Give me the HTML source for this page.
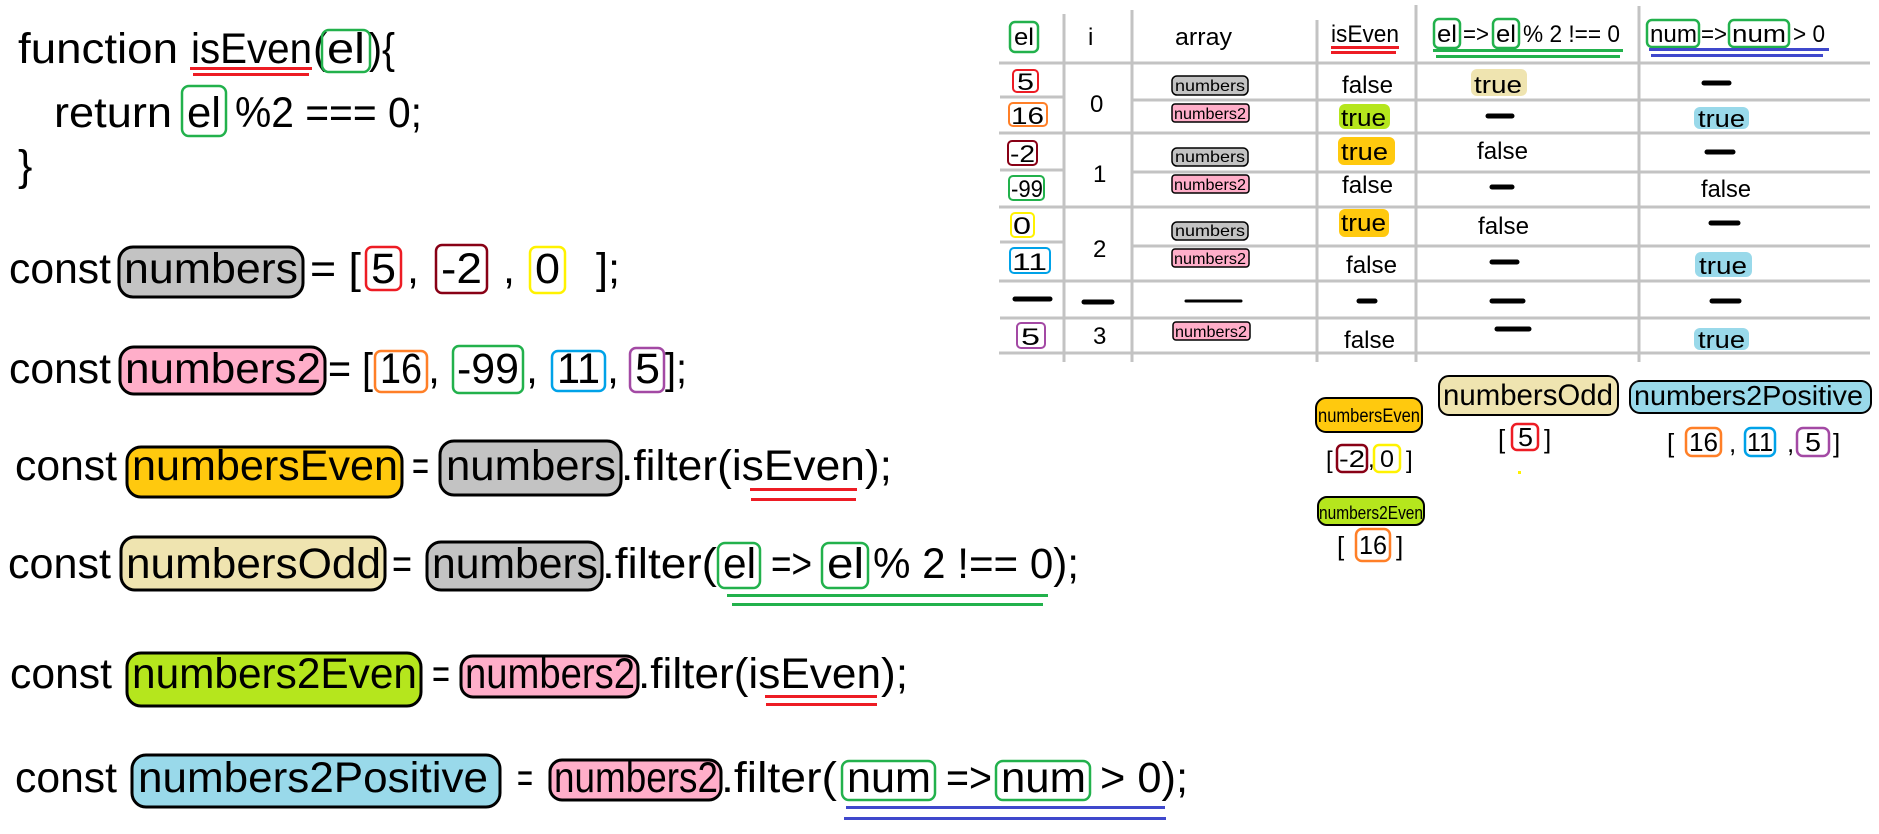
<!DOCTYPE html>
<html><head><meta charset="utf-8"><style>
html,body{margin:0;padding:0;background:#fff;width:1879px;height:834px;overflow:hidden}
svg text{font-family:"Liberation Sans",sans-serif;fill:#000}
</style></head><body>
<svg width="1879" height="834" viewBox="0 0 1879 834" xmlns="http://www.w3.org/2000/svg">
<g font-size="43" lengthAdjust="spacingAndGlyphs">
<!-- line1 -->
<text x="18" y="63" textLength="160" lengthAdjust="spacingAndGlyphs">function</text>
<text x="191" y="63" textLength="121" lengthAdjust="spacingAndGlyphs">isEven</text>
<rect x="190" y="67" width="122" height="3" fill="#ed1c24"/><rect x="193" y="73" width="116" height="3" fill="#ed1c24"/>
<text x="313" y="63">(</text>
<rect x="322" y="30" width="48" height="42" rx="7" fill="none" stroke="#22b14c" stroke-width="2.5"/>
<text x="327" y="63" textLength="38" lengthAdjust="spacingAndGlyphs">el</text>
<text x="369" y="63" textLength="26" lengthAdjust="spacingAndGlyphs">){</text>
<!-- line2 -->
<text x="54" y="127" textLength="118" lengthAdjust="spacingAndGlyphs">return</text>
<rect x="182" y="86" width="44" height="50" rx="7" fill="none" stroke="#22b14c" stroke-width="2.5"/>
<text x="187" y="127" textLength="34" lengthAdjust="spacingAndGlyphs">el</text>
<text x="235" y="127" textLength="187" lengthAdjust="spacingAndGlyphs">%2 === 0;</text>
<text x="18" y="180">}</text>
<!-- line4 -->
<text x="9" y="283" textLength="102" lengthAdjust="spacingAndGlyphs">const</text>
<rect x="119" y="247" width="184" height="50" rx="14" fill="#c3c3c3" stroke="#000" stroke-width="3"/>
<text x="124" y="283" textLength="174" lengthAdjust="spacingAndGlyphs">numbers</text>
<text x="310" y="283" textLength="51" lengthAdjust="spacingAndGlyphs">= [</text>
<rect x="366" y="247" width="35" height="43" rx="6" fill="none" stroke="#ed1c24" stroke-width="2.5"/>
<text x="371" y="283" textLength="25" lengthAdjust="spacingAndGlyphs">5</text>
<text x="407" y="283">,</text>
<rect x="436" y="245" width="51" height="48" rx="6" fill="none" stroke="#880015" stroke-width="2.5"/>
<text x="441" y="283" textLength="41" lengthAdjust="spacingAndGlyphs">-2</text>
<text x="503" y="283">,</text>
<rect x="530" y="247" width="35" height="46" rx="6" fill="none" stroke="#fff200" stroke-width="2.5"/>
<text x="535" y="283" textLength="25" lengthAdjust="spacingAndGlyphs">0</text>
<text x="596" y="283" textLength="24" lengthAdjust="spacingAndGlyphs">];</text>
<!-- line5 -->
<text x="9" y="383" textLength="102" lengthAdjust="spacingAndGlyphs">const</text>
<rect x="120" y="347" width="205" height="47" rx="14" fill="#ffaec9" stroke="#000" stroke-width="3"/>
<text x="125" y="383" textLength="196" lengthAdjust="spacingAndGlyphs">numbers2</text>
<text x="328" y="383" textLength="45" lengthAdjust="spacingAndGlyphs">= [</text>
<rect x="375" y="351" width="52" height="41" rx="6" fill="none" stroke="#ff7f27" stroke-width="2.5"/>
<text x="380" y="383" textLength="42" lengthAdjust="spacingAndGlyphs">16</text>
<text x="428" y="383">,</text>
<rect x="453" y="346" width="70" height="47" rx="6" fill="none" stroke="#22b14c" stroke-width="2.5"/>
<text x="457" y="383" textLength="62" lengthAdjust="spacingAndGlyphs">-99</text>
<text x="526" y="383">,</text>
<rect x="552" y="351" width="53" height="40" rx="6" fill="none" stroke="#00a2e8" stroke-width="2.5"/>
<text x="557" y="383" textLength="43" lengthAdjust="spacingAndGlyphs">11</text>
<text x="607" y="383">,</text>
<rect x="630" y="348" width="34" height="44" rx="6" fill="none" stroke="#a349a4" stroke-width="2.5"/>
<text x="635" y="383" textLength="25" lengthAdjust="spacingAndGlyphs">5</text>
<text x="665" y="383" textLength="22" lengthAdjust="spacingAndGlyphs">];</text>
<!-- line6 -->
<text x="15" y="480" textLength="102" lengthAdjust="spacingAndGlyphs">const</text>
<rect x="127" y="447" width="275" height="50" rx="14" fill="#ffc90e" stroke="#000" stroke-width="3"/>
<text x="132" y="480" textLength="266" lengthAdjust="spacingAndGlyphs">numbersEven</text>
<text x="412" y="480" textLength="17" lengthAdjust="spacingAndGlyphs">=</text>
<rect x="440" y="441" width="181" height="54" rx="14" fill="#c3c3c3" stroke="#000" stroke-width="3"/>
<text x="446" y="480" textLength="170" lengthAdjust="spacingAndGlyphs">numbers</text>
<text x="621" y="480" textLength="271" lengthAdjust="spacingAndGlyphs">.filter(isEven);</text>
<rect x="750" y="488" width="107" height="3" fill="#ed1c24"/><rect x="751" y="498" width="105" height="3" fill="#ed1c24"/>
<!-- line7 -->
<text x="8" y="578" textLength="103" lengthAdjust="spacingAndGlyphs">const</text>
<rect x="121" y="537" width="264" height="53" rx="14" fill="#efe4b0" stroke="#000" stroke-width="3"/>
<text x="126" y="578" textLength="255" lengthAdjust="spacingAndGlyphs">numbersOdd</text>
<text x="392" y="578" textLength="20" lengthAdjust="spacingAndGlyphs">=</text>
<rect x="427" y="542" width="175" height="48" rx="14" fill="#c3c3c3" stroke="#000" stroke-width="3"/>
<text x="432" y="578" textLength="166" lengthAdjust="spacingAndGlyphs">numbers</text>
<text x="602" y="578" textLength="115" lengthAdjust="spacingAndGlyphs">.filter(</text>
<rect x="718" y="543" width="42" height="45" rx="7" fill="none" stroke="#22b14c" stroke-width="2.5"/>
<text x="723" y="578" textLength="33" lengthAdjust="spacingAndGlyphs">el</text>
<text x="771" y="578" textLength="41" lengthAdjust="spacingAndGlyphs">=&gt;</text>
<rect x="822" y="543" width="46" height="45" rx="7" fill="none" stroke="#22b14c" stroke-width="2.5"/>
<text x="827" y="578" textLength="37" lengthAdjust="spacingAndGlyphs">el</text>
<text x="873" y="578" textLength="206" lengthAdjust="spacingAndGlyphs">% 2 !== 0);</text>
<rect x="727" y="594" width="321" height="3" fill="#22b14c"/><rect x="732" y="603" width="311" height="3" fill="#22b14c"/>
<!-- line8 -->
<text x="10" y="688" textLength="102" lengthAdjust="spacingAndGlyphs">const</text>
<rect x="127" y="653" width="294" height="53" rx="14" fill="#b5e61d" stroke="#000" stroke-width="3"/>
<text x="132" y="688" textLength="285" lengthAdjust="spacingAndGlyphs">numbers2Even</text>
<text x="432" y="688" textLength="18" lengthAdjust="spacingAndGlyphs">=</text>
<rect x="461" y="656" width="177" height="41" rx="12" fill="#ffaec9" stroke="#000" stroke-width="3"/>
<text x="465" y="688" textLength="170" lengthAdjust="spacingAndGlyphs">numbers2</text>
<text x="638" y="688" textLength="270" lengthAdjust="spacingAndGlyphs">.filter(isEven);</text>
<rect x="765" y="695" width="112" height="3" fill="#ed1c24"/><rect x="766" y="703" width="111" height="3" fill="#ed1c24"/>
<!-- line9 -->
<text x="15" y="792" textLength="102" lengthAdjust="spacingAndGlyphs">const</text>
<rect x="132" y="755" width="368" height="52" rx="14" fill="#99d9ea" stroke="#000" stroke-width="3"/>
<text x="138" y="792" textLength="350" lengthAdjust="spacingAndGlyphs">numbers2Positive</text>
<text x="517" y="792" textLength="16" lengthAdjust="spacingAndGlyphs">=</text>
<rect x="550" y="760" width="171" height="40" rx="12" fill="#ffaec9" stroke="#000" stroke-width="3"/>
<text x="554" y="792" textLength="164" lengthAdjust="spacingAndGlyphs">numbers2</text>
<text x="721" y="792" textLength="116" lengthAdjust="spacingAndGlyphs">.filter(</text>
<rect x="842" y="761" width="93" height="39" rx="7" fill="none" stroke="#22b14c" stroke-width="2.5"/>
<text x="847" y="792" textLength="84" lengthAdjust="spacingAndGlyphs">num</text>
<text x="946" y="792" textLength="46" lengthAdjust="spacingAndGlyphs">=&gt;</text>
<rect x="996" y="761" width="94" height="39" rx="7" fill="none" stroke="#22b14c" stroke-width="2.5"/>
<text x="1001" y="792" textLength="85" lengthAdjust="spacingAndGlyphs">num</text>
<text x="1100" y="792" textLength="88" lengthAdjust="spacingAndGlyphs">&gt; 0);</text>
<rect x="846" y="806" width="319" height="3" fill="#3f48cc"/><rect x="844" y="817" width="322" height="3" fill="#3f48cc"/>
</g>

<!-- table grid -->
<g stroke="#c3c3c3" stroke-width="3">
<line x1="1064" y1="14" x2="1064" y2="362"/>
<line x1="1132" y1="10" x2="1132" y2="362"/>
<line x1="1317" y1="20" x2="1317" y2="362"/>
<line x1="1416" y1="5" x2="1416" y2="362"/>
<line x1="1639" y1="6" x2="1639" y2="362"/>
<line x1="999" y1="63" x2="1870" y2="63"/>
<line x1="999" y1="133" x2="1870" y2="133"/>
<line x1="999" y1="207" x2="1870" y2="207"/>
<line x1="999" y1="281" x2="1870" y2="281"/>
<line x1="1000" y1="318" x2="1870" y2="318"/>
<line x1="999" y1="353" x2="1870" y2="353"/>
<line x1="1000" y1="97" x2="1064" y2="97"/><line x1="1132" y1="100" x2="1870" y2="100"/>
<line x1="1000" y1="170" x2="1064" y2="170"/><line x1="1132" y1="172" x2="1870" y2="172"/>
<line x1="1000" y1="242" x2="1064" y2="242"/><line x1="1132" y1="246" x2="1870" y2="246"/>
</g>

<g font-size="24">
<!-- header -->
<rect x="1010" y="22" width="28" height="30" rx="5" fill="none" stroke="#22b14c" stroke-width="2.5"/>
<text x="1014" y="45" textLength="20" lengthAdjust="spacingAndGlyphs">el</text>
<text x="1088" y="45">i</text>
<text x="1175" y="45" textLength="57" lengthAdjust="spacingAndGlyphs">array</text>
<text x="1331" y="42" textLength="68" lengthAdjust="spacingAndGlyphs">isEven</text>
<rect x="1331" y="46" width="68" height="3" fill="#ed1c24"/><rect x="1331" y="51" width="65" height="3" fill="#ed1c24"/>
<rect x="1434" y="19" width="26" height="29" rx="5" fill="none" stroke="#22b14c" stroke-width="2.5"/>
<text x="1437" y="42" textLength="20" lengthAdjust="spacingAndGlyphs">el</text>
<text x="1463" y="42" textLength="26" lengthAdjust="spacingAndGlyphs">=&gt;</text>
<rect x="1493" y="19" width="26" height="29" rx="5" fill="none" stroke="#22b14c" stroke-width="2.5"/>
<text x="1496" y="42" textLength="20" lengthAdjust="spacingAndGlyphs">el</text>
<text x="1523" y="42" textLength="97" lengthAdjust="spacingAndGlyphs">% 2 !== 0</text>
<rect x="1433" y="49" width="190" height="3" fill="#22b14c"/><rect x="1436" y="55" width="184" height="3" fill="#22b14c"/>
<rect x="1647" y="20" width="52" height="27" rx="5" fill="none" stroke="#22b14c" stroke-width="2.5"/>
<text x="1650" y="42" textLength="47" lengthAdjust="spacingAndGlyphs">num</text>
<text x="1701" y="42" textLength="26" lengthAdjust="spacingAndGlyphs">=&gt;</text>
<rect x="1729" y="20" width="60" height="27" rx="5" fill="none" stroke="#22b14c" stroke-width="2.5"/>
<text x="1732" y="42" textLength="54" lengthAdjust="spacingAndGlyphs">num</text>
<text x="1793" y="42" textLength="32" lengthAdjust="spacingAndGlyphs">&gt; 0</text>
<rect x="1649" y="48" width="180" height="3" fill="#3f48cc"/><rect x="1651" y="54" width="172" height="3" fill="#3f48cc"/>

<!-- el column boxes -->
<rect x="1013" y="70" width="25" height="22" rx="4" fill="none" stroke="#ed1c24" stroke-width="2"/>
<text x="1017" y="90" textLength="17" lengthAdjust="spacingAndGlyphs">5</text>
<rect x="1009" y="103" width="38" height="23" rx="4" fill="none" stroke="#ff7f27" stroke-width="2"/>
<text x="1011" y="124" textLength="33" lengthAdjust="spacingAndGlyphs">16</text>
<rect x="1008" y="141" width="29" height="24" rx="4" fill="none" stroke="#880015" stroke-width="2"/>
<text x="1010" y="162" textLength="25" lengthAdjust="spacingAndGlyphs">-2</text>
<rect x="1009" y="176" width="35" height="24" rx="4" fill="none" stroke="#22b14c" stroke-width="2"/>
<text x="1011" y="197" textLength="32" lengthAdjust="spacingAndGlyphs">-99</text>
<rect x="1011" y="213" width="23" height="24" rx="4" fill="none" stroke="#fff200" stroke-width="2"/>
<text x="1013" y="234" textLength="18" lengthAdjust="spacingAndGlyphs">0</text>
<rect x="1010" y="248" width="40" height="25" rx="4" fill="none" stroke="#00a2e8" stroke-width="2"/>
<text x="1012" y="270" textLength="35" lengthAdjust="spacingAndGlyphs">11</text>
<rect x="1017" y="323" width="28" height="25" rx="4" fill="none" stroke="#a349a4" stroke-width="2"/>
<text x="1021" y="345" textLength="19" lengthAdjust="spacingAndGlyphs">5</text>

<text x="1090" y="112">0</text>
<text x="1093" y="182">1</text>
<text x="1093" y="257">2</text>
<text x="1093" y="344">3</text>

<!-- isEven col -->
<text x="1342" y="93" textLength="51" lengthAdjust="spacingAndGlyphs">false</text>
<rect x="1339" y="104" width="51" height="25" rx="6" fill="#b5e61d"/>
<text x="1341" y="126" textLength="45" lengthAdjust="spacingAndGlyphs">true</text>
<rect x="1338" y="137" width="57" height="28" rx="6" fill="#ffc90e"/>
<text x="1341" y="160" textLength="47" lengthAdjust="spacingAndGlyphs">true</text>
<text x="1342" y="193" textLength="51" lengthAdjust="spacingAndGlyphs">false</text>
<rect x="1339" y="209" width="50" height="28" rx="6" fill="#ffc90e"/>
<text x="1341" y="231" textLength="45" lengthAdjust="spacingAndGlyphs">true</text>
<text x="1346" y="273" textLength="51" lengthAdjust="spacingAndGlyphs">false</text>
<text x="1344" y="348" textLength="51" lengthAdjust="spacingAndGlyphs">false</text>

<!-- col5 -->
<rect x="1471" y="69" width="56" height="27" rx="6" fill="#efe4b0"/>
<text x="1474" y="93" textLength="48" lengthAdjust="spacingAndGlyphs">true</text>
<text x="1477" y="159" textLength="51" lengthAdjust="spacingAndGlyphs">false</text>
<text x="1478" y="234" textLength="51" lengthAdjust="spacingAndGlyphs">false</text>

<!-- col6 -->
<rect x="1694" y="107" width="55" height="22" rx="6" fill="#99d9ea"/>
<text x="1698" y="127" textLength="47" lengthAdjust="spacingAndGlyphs">true</text>
<text x="1701" y="197" textLength="50" lengthAdjust="spacingAndGlyphs">false</text>
<rect x="1695" y="252" width="57" height="25" rx="6" fill="#99d9ea"/>
<text x="1699" y="274" textLength="48" lengthAdjust="spacingAndGlyphs">true</text>
<rect x="1694" y="328" width="55" height="22" rx="6" fill="#99d9ea"/>
<text x="1698" y="348" textLength="47" lengthAdjust="spacingAndGlyphs">true</text>
</g>

<!-- dashes -->
<g stroke="#000" stroke-linecap="round">
<line x1="1704" y1="83" x2="1729" y2="83" stroke-width="5"/>
<line x1="1488" y1="116" x2="1512" y2="116" stroke-width="5"/>
<line x1="1707" y1="152" x2="1733" y2="152" stroke-width="5"/>
<line x1="1492" y1="187" x2="1512" y2="187" stroke-width="5"/>
<line x1="1711" y1="223" x2="1738" y2="223" stroke-width="5"/>
<line x1="1492" y1="262" x2="1517" y2="262" stroke-width="5"/>
<line x1="1015" y1="299" x2="1050" y2="299" stroke-width="5"/>
<line x1="1084" y1="302" x2="1112" y2="302" stroke-width="5"/>
<line x1="1186" y1="301" x2="1241" y2="301" stroke-width="3"/>
<line x1="1359" y1="301" x2="1375" y2="301" stroke-width="5"/>
<line x1="1492" y1="301" x2="1523" y2="301" stroke-width="5"/>
<line x1="1712" y1="301" x2="1739" y2="301" stroke-width="5"/>
<line x1="1497" y1="329" x2="1529" y2="329" stroke-width="5"/>
</g>

<!-- array pills -->
<g font-size="16">
<rect x="1172" y="76" width="76" height="19" rx="5" fill="#c3c3c3" stroke="#000" stroke-width="1.5"/>
<text x="1175" y="91" textLength="70" lengthAdjust="spacingAndGlyphs">numbers</text>
<rect x="1172" y="104" width="77" height="18" rx="3" fill="#ffaec9" stroke="#000" stroke-width="1.5"/>
<text x="1174" y="119" textLength="72" lengthAdjust="spacingAndGlyphs">numbers2</text>
<rect x="1172" y="148" width="76" height="18" rx="5" fill="#c3c3c3" stroke="#000" stroke-width="1.5"/>
<text x="1175" y="162" textLength="70" lengthAdjust="spacingAndGlyphs">numbers</text>
<rect x="1172" y="175" width="77" height="18" rx="3" fill="#ffaec9" stroke="#000" stroke-width="1.5"/>
<text x="1174" y="190" textLength="72" lengthAdjust="spacingAndGlyphs">numbers2</text>
<rect x="1172" y="222" width="76" height="18" rx="5" fill="#c3c3c3" stroke="#000" stroke-width="1.5"/>
<text x="1175" y="236" textLength="70" lengthAdjust="spacingAndGlyphs">numbers</text>
<rect x="1172" y="249" width="77" height="18" rx="3" fill="#ffaec9" stroke="#000" stroke-width="1.5"/>
<text x="1174" y="264" textLength="72" lengthAdjust="spacingAndGlyphs">numbers2</text>
<rect x="1173" y="322" width="77" height="18" rx="3" fill="#ffaec9" stroke="#000" stroke-width="1.5"/>
<text x="1175" y="337" textLength="72" lengthAdjust="spacingAndGlyphs">numbers2</text>
</g>

<!-- results -->
<rect x="1316" y="398" width="106" height="34" rx="10" fill="#ffc90e" stroke="#000" stroke-width="2"/>
<text x="1318" y="422" font-size="19" textLength="102" lengthAdjust="spacingAndGlyphs">numbersEven</text>
<g font-size="24">
<text x="1326" y="468">[</text>
<rect x="1337" y="445" width="30" height="27" rx="5" fill="none" stroke="#880015" stroke-width="2.5"/>
<text x="1339" y="467" textLength="26" lengthAdjust="spacingAndGlyphs">-2</text>
<text x="1368" y="467">,</text>
<rect x="1374" y="445" width="26" height="27" rx="5" fill="none" stroke="#fff200" stroke-width="2.5"/>
<text x="1380" y="467" textLength="14" lengthAdjust="spacingAndGlyphs">0</text>
<text x="1406" y="468">]</text>
</g>
<rect x="1318" y="497" width="106" height="28" rx="9" fill="#b5e61d" stroke="#000" stroke-width="2"/>
<text x="1319" y="519" font-size="18" textLength="104" lengthAdjust="spacingAndGlyphs">numbers2Even</text>
<g font-size="26">
<text x="1337" y="555">[</text>
<rect x="1356" y="529" width="34" height="32" rx="6" fill="none" stroke="#ff7f27" stroke-width="2.5"/>
<text x="1359" y="554" textLength="28" lengthAdjust="spacingAndGlyphs">16</text>
<text x="1396" y="555">]</text>
</g>
<rect x="1439" y="376" width="179" height="39" rx="10" fill="#efe4b0" stroke="#000" stroke-width="2"/>
<text x="1443" y="405" font-size="30" textLength="170" lengthAdjust="spacingAndGlyphs">numbersOdd</text>
<g font-size="26">
<text x="1498" y="448">[</text>
<rect x="1512" y="424" width="26" height="26" rx="5" fill="none" stroke="#ed1c24" stroke-width="2.5"/>
<text x="1518" y="446" textLength="15" lengthAdjust="spacingAndGlyphs">5</text>
<text x="1544" y="448">]</text>
</g>
<rect x="1518" y="471" width="3" height="3" fill="#fff200"/>
<rect x="1630" y="381" width="241" height="32" rx="10" fill="#99d9ea" stroke="#000" stroke-width="2"/>
<text x="1634" y="405" font-size="28" textLength="229" lengthAdjust="spacingAndGlyphs">numbers2Positive</text>
<g font-size="26">
<text x="1667" y="452">[</text>
<rect x="1686" y="428" width="35" height="28" rx="6" fill="none" stroke="#ff7f27" stroke-width="2.5"/>
<text x="1689" y="451" textLength="29" lengthAdjust="spacingAndGlyphs">16</text>
<text x="1729" y="452">,</text>
<rect x="1745" y="428" width="30" height="28" rx="6" fill="none" stroke="#00a2e8" stroke-width="2.5"/>
<text x="1747" y="451" textLength="26" lengthAdjust="spacingAndGlyphs">11</text>
<text x="1787" y="452">,</text>
<rect x="1797" y="428" width="32" height="28" rx="6" fill="none" stroke="#a349a4" stroke-width="2.5"/>
<text x="1805" y="451" textLength="16" lengthAdjust="spacingAndGlyphs">5</text>
<text x="1833" y="452">]</text>
</g>
</svg>
</body></html>
